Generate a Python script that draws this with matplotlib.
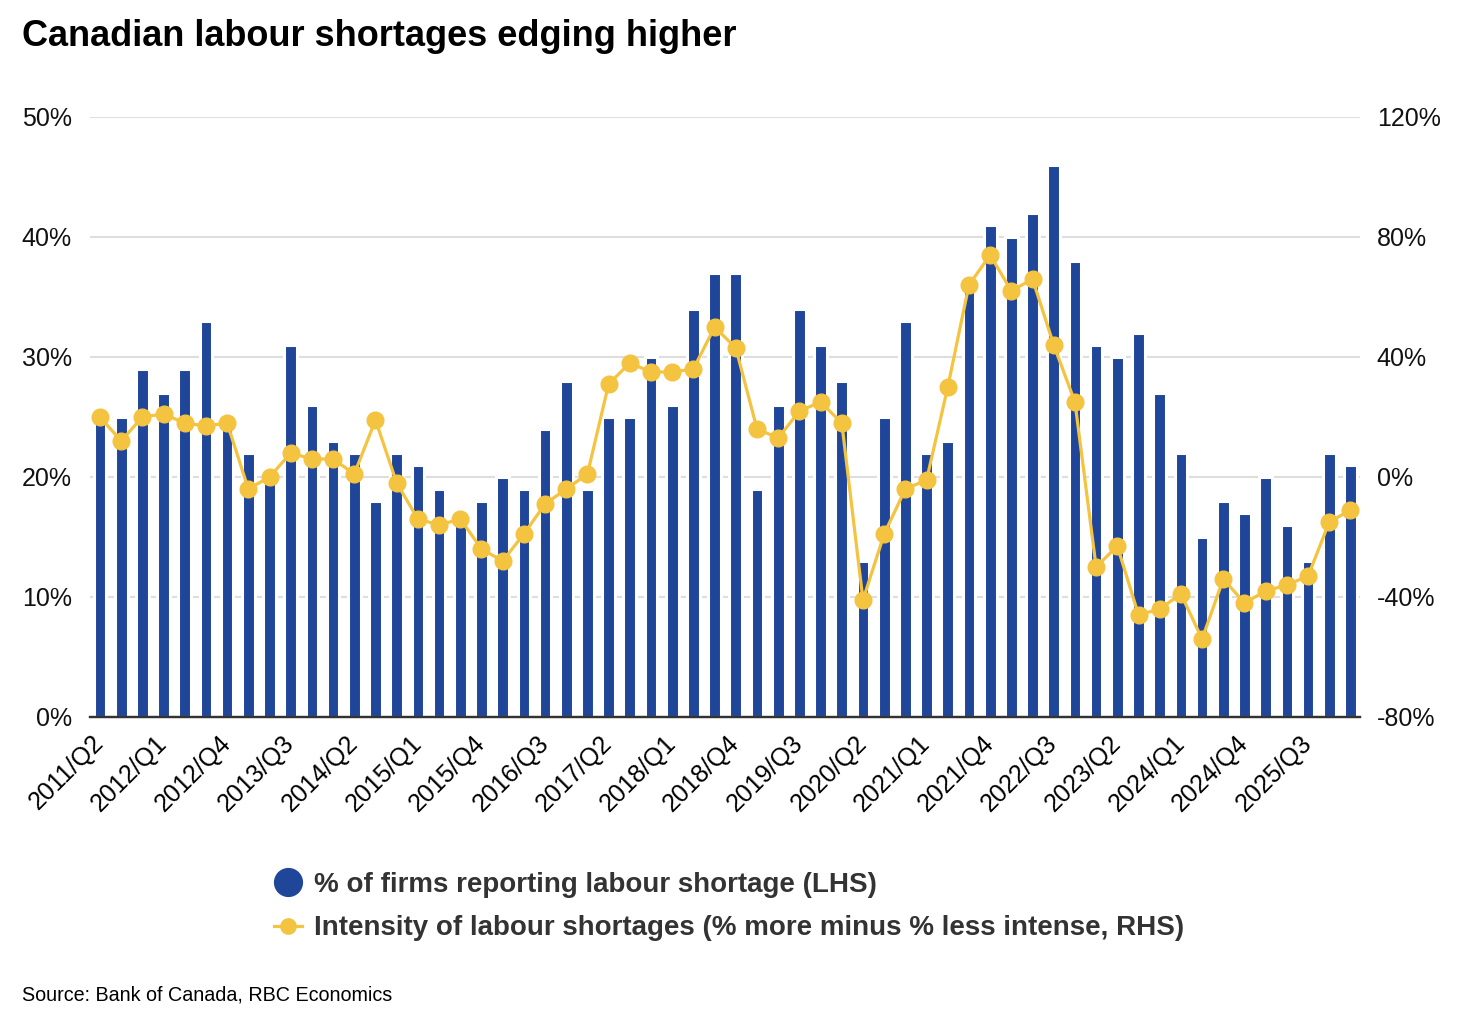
import matplotlib
matplotlib.use("Agg")
import matplotlib.pyplot as plt
from matplotlib.lines import Line2D
from matplotlib.ticker import FuncFormatter
import numpy as np

plt.rcParams['font.family'] = ['Liberation Sans', 'DejaVu Sans']

# quarterly data, 2011/Q2 to 2026/Q1
start_year, start_q = 2011, 2
firms_pct = [25, 25, 29, 27, 29, 33, 24, 22, 20, 31,
             26, 23, 22, 18, 22, 21, 19, 17, 18, 20,
             19, 24, 28, 19, 25, 25, 30, 26, 34, 37,
             37, 19, 26, 34, 31, 28, 13, 25, 33, 22,
             23, 36, 41, 40, 42, 46, 38, 31, 30, 32,
             27, 22, 15, 18, 17, 20, 16, 13, 22, 21]
intensity = [20, 12, 20, 21, 18, 17, 18, -4, 0, 8,
             6, 6, 1, 19, -2, -14, -16, -14, -24, -28,
             -19, -9, -4, 1, 31, 38, 35, 35, 36, 50,
             43, 16, 13, 22, 25, 18, -41, -19, -4, -1,
             30, 64, 74, 62, 66, 44, 25, -30, -23, -46,
             -44, -39, -54, -34, -42, -38, -36, -33, -15, -11]

quarters = []
for i in range(len(firms_pct)):
    k = (start_q - 1) + i
    quarters.append("{}/Q{}".format(start_year + k // 4, k % 4 + 1))

lhs_ticks = [0, 10, 20, 30, 40, 50]
rhs_ticks = [-80, -40, 0, 40, 80, 120]

blue = "#20469a"
yellow = "#f4c340"

fig = plt.figure(figsize=(14.66, 10.18), dpi=100)
ax = fig.add_axes([90 / 1466, 1 - 717 / 1018, 1270 / 1466, 600 / 1018])
ax2 = ax.twinx()

x = np.arange(len(firms_pct))
ax.bar(x, firms_pct, width=0.6, color=blue, edgecolor="white", linewidth=2.2, zorder=2)
ax.set_ylim(0, 50)
ax.set_xlim(-0.47, len(x) - 0.55)
ax.set_yticks(lhs_ticks)
ax.yaxis.set_major_formatter(FuncFormatter(lambda v, p: "{:.0f}%".format(v)))
ax.grid(axis="y", color="#dedede", linewidth=1.5)
ax.set_axisbelow(True)

ax2.plot(x, intensity, color=yellow, linewidth=2.3, marker="o", markersize=12, zorder=3)
ax2.set_ylim(-80, 120)
ax2.set_yticks(rhs_ticks)
ax2.yaxis.set_major_formatter(FuncFormatter(lambda v, p: "{:.0f}%".format(v)))

for a in (ax, ax2):
    for s in ("top", "right", "left"):
        a.spines[s].set_visible(False)
    a.spines["bottom"].set_color("#333333")
    a.spines["bottom"].set_linewidth(1.6)
    a.tick_params(axis="y", length=0, labelsize=18, colors="#111111")

ax.tick_params(axis="y", pad=13)
ax2.tick_params(axis="y", pad=12)

ax.set_xticks(x[::3])
ax.set_xticklabels(quarters[::3], rotation=45, ha="right", va="center",
                   rotation_mode="anchor", fontsize=18)
ax.tick_params(axis="x", length=0, pad=16)

fig.text(22 / 1466, 1 - 36 / 1018, "Canadian labour shortages edging higher",
         fontsize=26, fontweight="bold", va="center", ha="left")
fig.text(22 / 1466, 1 - 995 / 1018, "Source: Bank of Canada, RBC Economics",
         fontsize=14.2, va="center", ha="left")

handles = [Line2D([], [], linestyle="none", marker="o", markersize=20, color=blue),
           Line2D([], [], color=yellow, linewidth=2.3, marker="o", markersize=11)]
labels = ["% of firms reporting labour shortage (LHS)",
          "Intensity of labour shortages (% more minus % less intense, RHS)"]
leg = fig.legend(handles, labels, loc="upper left", bbox_to_anchor=(274 / 1466, 1 - 872 / 1018),
                 frameon=False, borderpad=0, borderaxespad=0, handlelength=1.0,
                 handletextpad=0.43, labelspacing=0.62,
                 prop={"size": 20, "weight": "bold"})
for t in leg.get_texts():
    t.set_color("#333333")

fig.savefig("out.png", dpi=100)
